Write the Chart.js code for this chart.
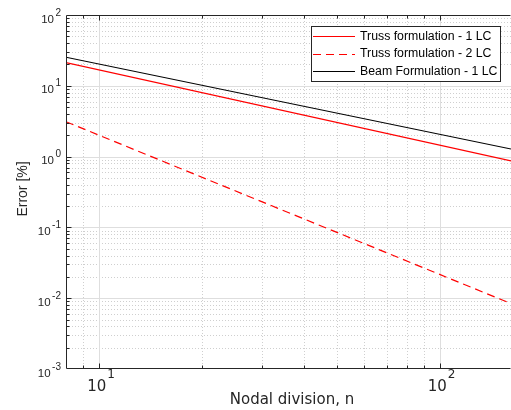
<!DOCTYPE html>
<html>
<head>
<meta charset="utf-8">
<script src="https://cdn.jsdelivr.net/npm/chart.js@4.4.1/dist/chart.umd.min.js"></script>
<style>
  html, body { margin: 0; padding: 0; background: #fff; }
  canvas { display: block; }
</style>
</head>
<body>
<canvas id="chart" width="511" height="410"></canvas>
<script>
'use strict';

// nodal division n (x) and error in % (y), straight lines on log-log axes
let nodalDivision = [8, 162];
let truss1LC = [21.2, 0.867];
let truss2LC = [3.11, 0.0084];
let beam1LC = [25.3, 1.28];

// decade exponents that get a "10^k" tick label
let xDecades = [1, 2];
let yDecades = [-3, -2, -1, 0, 1, 2];

let axisColor = '#262626';

function points(ys) {
  let out = [];
  for (let i = 0; i < nodalDivision.length; i++) {
    out.push({ x: nodalDivision[i], y: ys[i] });
  }
  return out;
}

// grid, box, tick marks, tick labels, titles and legend, drawn MATLAB style
let axesPlugin = {
  id: 'axesPlugin',
  beforeDatasetsDraw(chart) {
    let ctx = chart.ctx;
    let area = chart.chartArea;
    let xs = chart.scales.x;
    let ys = chart.scales.y;
    ctx.save();
    ctx.lineWidth = 1;

    // minor grid (dotted)
    ctx.strokeStyle = '#cfcfcf';
    ctx.setLineDash([1, 2]);
    for (let e = 0; e <= 2; e++) {
      for (let m = 2; m <= 9; m++) {
        let v = m * Math.pow(10, e);
        if (v <= xs.min || v >= xs.max) continue;
        let px = Math.round(xs.getPixelForValue(v)) + 0.5;
        ctx.beginPath();
        ctx.moveTo(px, area.top);
        ctx.lineTo(px, area.bottom);
        ctx.stroke();
      }
    }
    for (let e = -3; e <= 1; e++) {
      for (let m = 2; m <= 9; m++) {
        let v = m * Math.pow(10, e);
        let py = Math.round(ys.getPixelForValue(v)) + 0.5;
        ctx.beginPath();
        ctx.moveTo(area.left, py);
        ctx.lineTo(area.right, py);
        ctx.stroke();
      }
    }

    // major grid (solid)
    ctx.setLineDash([]);
    ctx.strokeStyle = '#dedede';
    xDecades.forEach(function (e) {
      let px = Math.round(xs.getPixelForValue(Math.pow(10, e))) + 0.5;
      ctx.beginPath();
      ctx.moveTo(px, area.top);
      ctx.lineTo(px, area.bottom);
      ctx.stroke();
    });
    yDecades.forEach(function (e) {
      if (e === -3 || e === 2) return;
      let py = Math.round(ys.getPixelForValue(Math.pow(10, e))) + 0.5;
      ctx.beginPath();
      ctx.moveTo(area.left, py);
      ctx.lineTo(area.right, py);
      ctx.stroke();
    });
    ctx.restore();
  },
  afterDatasetsDraw(chart) {
    let ctx = chart.ctx;
    let area = chart.chartArea;
    let xs = chart.scales.x;
    let ys = chart.scales.y;
    let left = Math.round(area.left) + 0.5;
    let top = Math.round(area.top) + 0.5;
    let bottom = Math.round(area.bottom) - 0.5;
    let right = Math.round(area.right) - 0.5;
    ctx.save();

    // box
    ctx.strokeStyle = axisColor;
    ctx.lineWidth = 1;
    ctx.beginPath();
    ctx.moveTo(right, top);
    ctx.lineTo(left, top);
    ctx.lineTo(left, bottom);
    ctx.lineTo(right, bottom);
    ctx.stroke();

    // tick marks, pointing inward
    ctx.beginPath();
    for (let e = 0; e <= 2; e++) {
      for (let m = 1; m <= 9; m++) {
        let v = m * Math.pow(10, e);
        if (v <= xs.min || v >= xs.max) continue;
        let len = m === 1 ? 5 : 3;
        let px = Math.round(xs.getPixelForValue(v)) + 0.5;
        ctx.moveTo(px, bottom);
        ctx.lineTo(px, bottom - len);
        ctx.moveTo(px, top);
        ctx.lineTo(px, top + len);
      }
    }
    for (let e = -3; e <= 1; e++) {
      for (let m = 1; m <= 9; m++) {
        let v = m * Math.pow(10, e);
        if (v <= ys.min) continue;
        let len = m === 1 ? 5 : 3;
        let py = Math.round(ys.getPixelForValue(v)) + 0.5;
        ctx.moveTo(left, py);
        ctx.lineTo(left + len, py);
      }
    }
    ctx.stroke();

    // y tick labels
    ctx.fillStyle = axisColor;
    ctx.textBaseline = 'alphabetic';
    ctx.textAlign = 'left';
    yDecades.forEach(function (e) {
      let py = ys.getPixelForValue(Math.pow(10, e));
      let sup = String(e);
      ctx.font = '10px "Liberation Sans", Arial, sans-serif';
      let supW = ctx.measureText(sup).width;
      ctx.font = '11.5px "Liberation Sans", Arial, sans-serif';
      let baseW = ctx.measureText('10').width;
      let supX = 61 - supW;
      ctx.fillText('10', supX - 1.5 - baseW, py + 7.5);
      ctx.font = '10px "Liberation Sans", Arial, sans-serif';
      ctx.fillText(sup, supX, py + 0.5);
    });

    // x tick labels
    xDecades.forEach(function (e) {
      let px = xs.getPixelForValue(Math.pow(10, e));
      let sup = String(e);
      ctx.font = '12px "DejaVu Sans", sans-serif';
      let supW = ctx.measureText(sup).width;
      ctx.font = '15px "DejaVu Sans", sans-serif';
      let baseW = ctx.measureText('10').width;
      let x0 = px - (baseW + supW + 1) / 2 + 2;
      ctx.fillText('10', x0, 391);
      ctx.font = '12px "DejaVu Sans", sans-serif';
      ctx.fillText(sup, x0 + baseW + 1, 378);
    });

    // axis titles
    ctx.font = '15px "DejaVu Sans", sans-serif';
    ctx.textAlign = 'center';
    ctx.fillText('Nodal division, n', 292, 404);
    ctx.save();
    ctx.translate(23, 189);
    ctx.rotate(-Math.PI / 2);
    ctx.font = '14px "Liberation Sans", Arial, sans-serif';
    ctx.textBaseline = 'middle';
    ctx.fillText('Error [%]', 0, 0);
    ctx.restore();

    // legend
    let box = { x: 311.5, y: 26.5, w: 189, h: 55 };
    ctx.fillStyle = '#ffffff';
    ctx.fillRect(box.x, box.y, box.w, box.h);
    ctx.strokeStyle = axisColor;
    ctx.lineWidth = 1;
    ctx.strokeRect(box.x, box.y, box.w, box.h);
    let rowY = [36, 53.5, 71];
    chart.data.datasets.forEach(function (ds, i) {
      let y = Math.round(rowY[i]) + 0.5;
      ctx.strokeStyle = ds.borderColor;
      ctx.lineWidth = ds.borderWidth;
      ctx.setLineDash(ds.borderDash || []);
      ctx.beginPath();
      ctx.moveTo(313, y);
      ctx.lineTo(355, y);
      ctx.stroke();
      ctx.setLineDash([]);
      ctx.fillStyle = '#000000';
      ctx.font = '12.3px "Liberation Sans", Arial, sans-serif';
      ctx.textAlign = 'left';
      ctx.textBaseline = 'middle';
      ctx.fillText(ds.label, 360, rowY[i] + 0.5);
    });
    ctx.restore();
  }
};

let data = {
  datasets: [
    {
      label: 'Truss formulation - 1 LC',
      data: points(truss1LC),
      borderColor: '#ff0000',
      borderWidth: 1.2
    },
    {
      label: 'Truss formulation - 2 LC',
      data: points(truss2LC),
      borderColor: '#ff0000',
      borderWidth: 1.2,
      borderDash: [8, 5]
    },
    {
      label: 'Beam Formulation - 1 LC',
      data: points(beam1LC),
      borderColor: '#000000',
      borderWidth: 1.2
    }
  ]
};

let config = {
  type: 'line',
  data: data,
  options: {
    responsive: false,
    animation: false,
    events: [],
    elements: { point: { radius: 0 }, line: { tension: 0 } },
    layout: { padding: { left: 66, top: 15, right: 0, bottom: 41 } },
    plugins: { legend: { display: false }, tooltip: { enabled: false } },
    scales: {
      x: { type: 'logarithmic', min: 8, max: 162, display: false },
      y: { type: 'logarithmic', min: 0.001, max: 100, display: false }
    }
  },
  plugins: [axesPlugin]
};

new Chart(document.getElementById('chart'), config);
</script>
</body>
</html>
